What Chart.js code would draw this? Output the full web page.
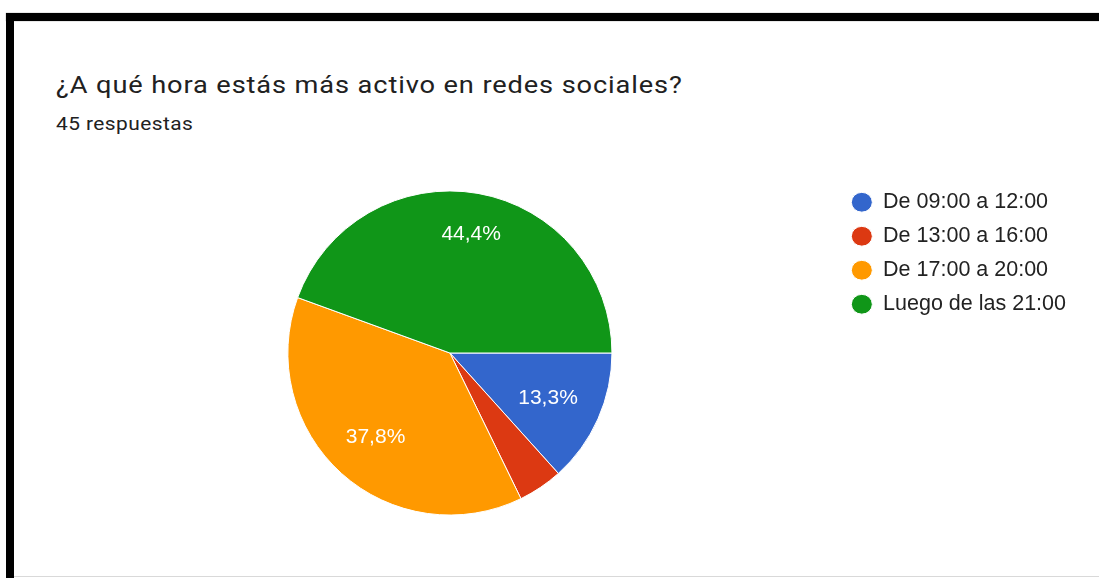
<!DOCTYPE html>
<html lang="es">
<head>
<meta charset="utf-8">
<title>Horario de actividad en redes sociales</title>
<script src="https://cdn.jsdelivr.net/npm/chart.js@4/dist/chart.umd.min.js"></script>
<style>
  html, body { margin: 0; padding: 0; background: #fff; }
  body { width: 1099px; height: 578px; position: relative; overflow: hidden; }
  /* black frame on top and left, thin grey rule at the bottom */
  .frame-top { position: absolute; left: 6px; top: 13px; width: 1093px; height: 8px; background: #000; box-shadow: 0 0 1px #777; }
  .frame-left { position: absolute; left: 6px; top: 13px; width: 8px; height: 565px; background: #000; }
  .frame-bottom { position: absolute; left: 14px; top: 576px; width: 1085px; height: 1px; background: #d9d9d9; }
  .title, .subtitle { position: absolute; left: 56px; line-height: 1.172; font-family: Roboto, sans-serif; font-weight: 400; color: #212121; white-space: nowrap; transform-origin: 0 0; }
  .title { top: 71px; font-size: 24.5px; letter-spacing: 0.8px; transform: scaleX(1.11); }
  .subtitle { top: 112.5px; font-size: 19px; letter-spacing: 0.4px; transform: scaleX(1.1); }
  #chart { position: absolute; left: 61px; top: 179px; }
</style>
</head>
<body>
<div class="frame-top"></div>
<div class="frame-left"></div>
<div class="frame-bottom"></div>
<div class="title">¿A qué hora estás más activo en redes sociales?</div>
<div class="subtitle">45 respuestas</div>
<canvas id="chart" width="1015" height="348"></canvas>

<script>
// answers per time slot (45 in total)
const categories = ['De 09:00 a 12:00', 'De 13:00 a 16:00', 'De 17:00 a 20:00', 'Luego de las 21:00'];
const responses = [6, 2, 17, 20];
const sliceColors = ['#3366CC', '#DC3912', '#FF9900', '#109618'];

const labelFont = '21px "Liberation Sans", Arial, sans-serif';

// percentage text inside each slice, Google-Forms style (comma decimals)
const sliceLabels = {
    id: 'sliceLabels',
    afterDatasetsDraw(chart) {
        const ctx = chart.ctx;
        const data = chart.data.datasets[0].data;
        const total = data.reduce((a, b) => a + b, 0);
        const meta = chart.getDatasetMeta(0);
        ctx.save();
        ctx.font = labelFont;
        ctx.fillStyle = '#fff';
        ctx.textAlign = 'center';
        ctx.textBaseline = 'alphabetic';
        meta.data.forEach((arc, i) => {
            const pct = data[i] / total * 100;
            if (pct < 5) return; // too thin for a label
            const text = pct.toFixed(1).replace('.', ',') + '%';
            const p = arc.getProps(['x', 'y', 'startAngle', 'endAngle', 'outerRadius'], true);
            const mid = (p.startAngle + p.endAngle) / 2;
            const ux = Math.cos(mid), uy = Math.sin(mid);
            const hw = ctx.measureText(text).width / 2;
            const hh = 7.5;
            // push the text out until its far corner sits at 85% of the radius
            const R = p.outerRadius * 0.85;
            const b = Math.abs(ux) * hw + Math.abs(uy) * hh;
            const c = hw * hw + hh * hh - R * R;
            const t = -b + Math.sqrt(b * b - c);
            const cx = p.x + ux * t, cy = p.y + uy * t;
            ctx.fillText(text, cx, cy + hh);
        });
        ctx.restore();
    }
};

new Chart(document.getElementById('chart'), {
    type: 'pie',
    data: {
        labels: categories,
        datasets: [{
            data: responses,
            backgroundColor: sliceColors,
            borderColor: '#ffffff',
            borderWidth: 1,
            radius: '93.4%'
        }]
    },
    options: {
        responsive: false,
        animation: false,
        events: [],
        rotation: 90,
        plugins: {
            legend: {
                position: 'right',
                align: 'start',
                labels: {
                    usePointStyle: true,
                    pointStyle: 'circle',
                    pointStyleWidth: 21,
                    boxHeight: 14,
                    padding: 12.5,
                    color: '#222',
                    font: { family: '"Liberation Sans", Arial, sans-serif', size: 21.5 }
                }
            },
            tooltip: { enabled: false }
        }
    },
    plugins: [sliceLabels]
});
</script>
</body>
</html>
